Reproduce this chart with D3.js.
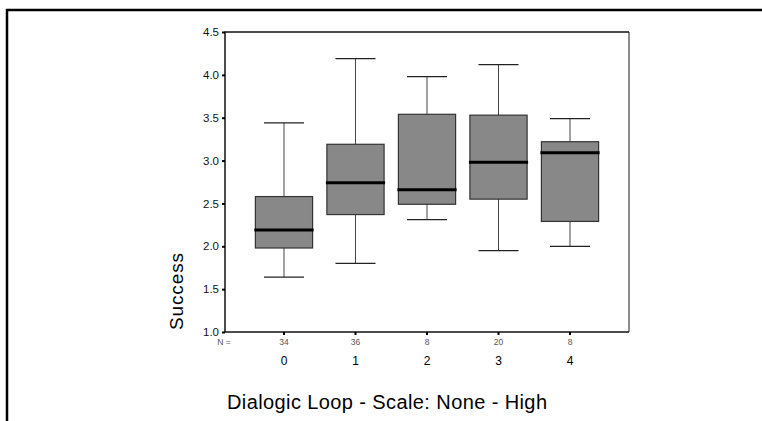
<!DOCTYPE html>
<html>
<head>
<meta charset="utf-8">
<script src="https://cdn.jsdelivr.net/npm/d3@7"></script>
<style>
    html, body { margin: 0; padding: 0; background: #fff; }
    svg { display: block; }
</style>
</head>
<body>
<div id="chart"></div>
<script>
// Box plot values
const categories = ['0', '1', '2', '3', '4'];
const counts = [34, 36, 8, 20, 8];
const whiskerLow = [1.64, 1.80, 2.31, 1.95, 2.00];
const q1 = [1.98, 2.37, 2.49, 2.55, 2.29];
const medians = [2.19, 2.74, 2.66, 2.98, 3.09];
const q3 = [2.58, 3.19, 3.54, 3.53, 3.22];
const whiskerHigh = [3.44, 4.19, 3.98, 4.12, 3.49];
const yTicks = [1.0, 1.5, 2.0, 2.5, 3.0, 3.5, 4.0, 4.5];

const width = 762, height = 421;
const plot = { left: 225, right: 629, top: 32, bottom: 332 };
const font = 'Arial, "Liberation Sans", sans-serif';

const svg = d3.select('#chart')
    .append('svg')
    .attr('width', width)
    .attr('height', height);

// outer page frame (top and left only)
svg.append('path')
    .attr('d', `M7,${height} L7,10 L${width},10`)
    .style('fill', 'none')
    .style('stroke', '#000')
    .style('stroke-width', '2.5px');

const x = d3.scalePoint()
    .domain(categories)
    .range([plot.left, plot.right])
    .padding(0.825);

const y = d3.scaleLinear()
    .domain([1.0, 4.5])
    .range([plot.bottom, plot.top]);

const step = x.step();
const boxW = step * 0.8;
const capW = step * 0.56;

const data = categories.map((c, i) => ({
    cat: c, n: counts[i], lo: whiskerLow[i], q1: q1[i],
    med: medians[i], q3: q3[i], hi: whiskerHigh[i]
}));

// plot frame
svg.append('line')
    .attr('x1', plot.right).attr('x2', plot.right)
    .attr('y1', plot.top).attr('y2', plot.bottom)
    .style('stroke', '#666').style('stroke-width', '1.5px');
svg.append('path')
    .attr('d', `M${plot.left},${plot.bottom} L${plot.left},${plot.top} L${plot.right},${plot.top}`)
    .style('fill', 'none')
    .style('stroke', '#111')
    .style('stroke-width', '1.5px');
svg.append('line')
    .attr('x1', plot.left).attr('x2', plot.right)
    .attr('y1', plot.bottom).attr('y2', plot.bottom)
    .style('stroke', '#111').style('stroke-width', '1.5px');

// y axis
const yAxis = svg.append('g')
    .attr('transform', `translate(${plot.left},0)`)
    .call(d3.axisLeft(y)
        .tickValues(yTicks)
        .tickFormat(d3.format('.1f'))
        .tickSizeInner(3)
        .tickSizeOuter(0)
        .tickPadding(3));
yAxis.select('.domain').remove();
yAxis.selectAll('.tick line').style('stroke', '#000').style('stroke-width', '2px');
yAxis.selectAll('.tick text')
    .style('font-family', font)
    .style('font-size', '11.5px')
    .style('fill', '#111');

// x ticks (small dots below the axis)
svg.selectAll('.xTick')
    .data(data)
    .enter()
    .append('line')
    .attr('class', 'xTick')
    .attr('x1', d => x(d.cat)).attr('x2', d => x(d.cat))
    .attr('y1', plot.bottom).attr('y2', plot.bottom + 3)
    .style('stroke', '#000')
    .style('stroke-width', '2px');

// boxes and whiskers
const boxes = svg.selectAll('.box')
    .data(data)
    .enter()
    .append('g')
    .attr('class', 'box');

boxes.append('line')
    .attr('x1', d => x(d.cat)).attr('x2', d => x(d.cat))
    .attr('y1', d => y(d.hi)).attr('y2', d => y(d.lo))
    .style('stroke', '#444').style('stroke-width', '1px');

boxes.append('line')
    .attr('x1', d => x(d.cat) - capW / 2).attr('x2', d => x(d.cat) + capW / 2)
    .attr('y1', d => y(d.hi)).attr('y2', d => y(d.hi))
    .style('stroke', '#222').style('stroke-width', '1.2px');

boxes.append('line')
    .attr('x1', d => x(d.cat) - capW / 2).attr('x2', d => x(d.cat) + capW / 2)
    .attr('y1', d => y(d.lo)).attr('y2', d => y(d.lo))
    .style('stroke', '#222').style('stroke-width', '1.2px');

boxes.append('rect')
    .attr('x', d => x(d.cat) - boxW / 2)
    .attr('y', d => y(d.q3))
    .attr('width', boxW)
    .attr('height', d => y(d.q1) - y(d.q3))
    .style('fill', '#888888')
    .style('stroke', '#333')
    .style('stroke-width', '1.2px');

boxes.append('line')
    .attr('x1', d => x(d.cat) - boxW / 2 - 1).attr('x2', d => x(d.cat) + boxW / 2 + 1)
    .attr('y1', d => y(d.med)).attr('y2', d => y(d.med))
    .style('stroke', '#000').style('stroke-width', '3px');

// N counts
svg.append('text')
    .attr('x', 224)
    .attr('y', 345)
    .attr('text-anchor', 'middle')
    .style('font-family', font)
    .style('font-size', '8.5px')
    .style('fill', '#555')
    .text('N =');

svg.selectAll('.nLabel')
    .data(data)
    .enter()
    .append('text')
    .attr('class', 'nLabel')
    .attr('x', d => x(d.cat))
    .attr('y', 345)
    .attr('text-anchor', 'middle')
    .style('font-family', font)
    .style('font-size', '8.5px')
    .style('fill', '#555')
    .text(d => d.n);

// category labels
svg.selectAll('.catLabel')
    .data(data)
    .enter()
    .append('text')
    .attr('class', 'catLabel')
    .attr('x', d => x(d.cat))
    .attr('y', 365)
    .attr('text-anchor', 'middle')
    .style('font-family', font)
    .style('font-size', '12px')
    .style('fill', '#000')
    .text(d => d.cat);

// axis titles
svg.append('text')
    .attr('transform', 'translate(183,330) rotate(-90)')
    .attr('text-anchor', 'start')
    .attr('textLength', 77)
    .style('font-family', font)
    .style('font-size', '19px')
    .style('fill', '#000')
    .text('Success');

svg.append('text')
    .attr('x', 387)
    .attr('y', 409)
    .attr('text-anchor', 'middle')
    .attr('textLength', 320)
    .style('font-family', font)
    .style('font-size', '20px')
    .style('fill', '#000')
    .text('Dialogic Loop - Scale: None - High');
</script>
</body>
</html>
